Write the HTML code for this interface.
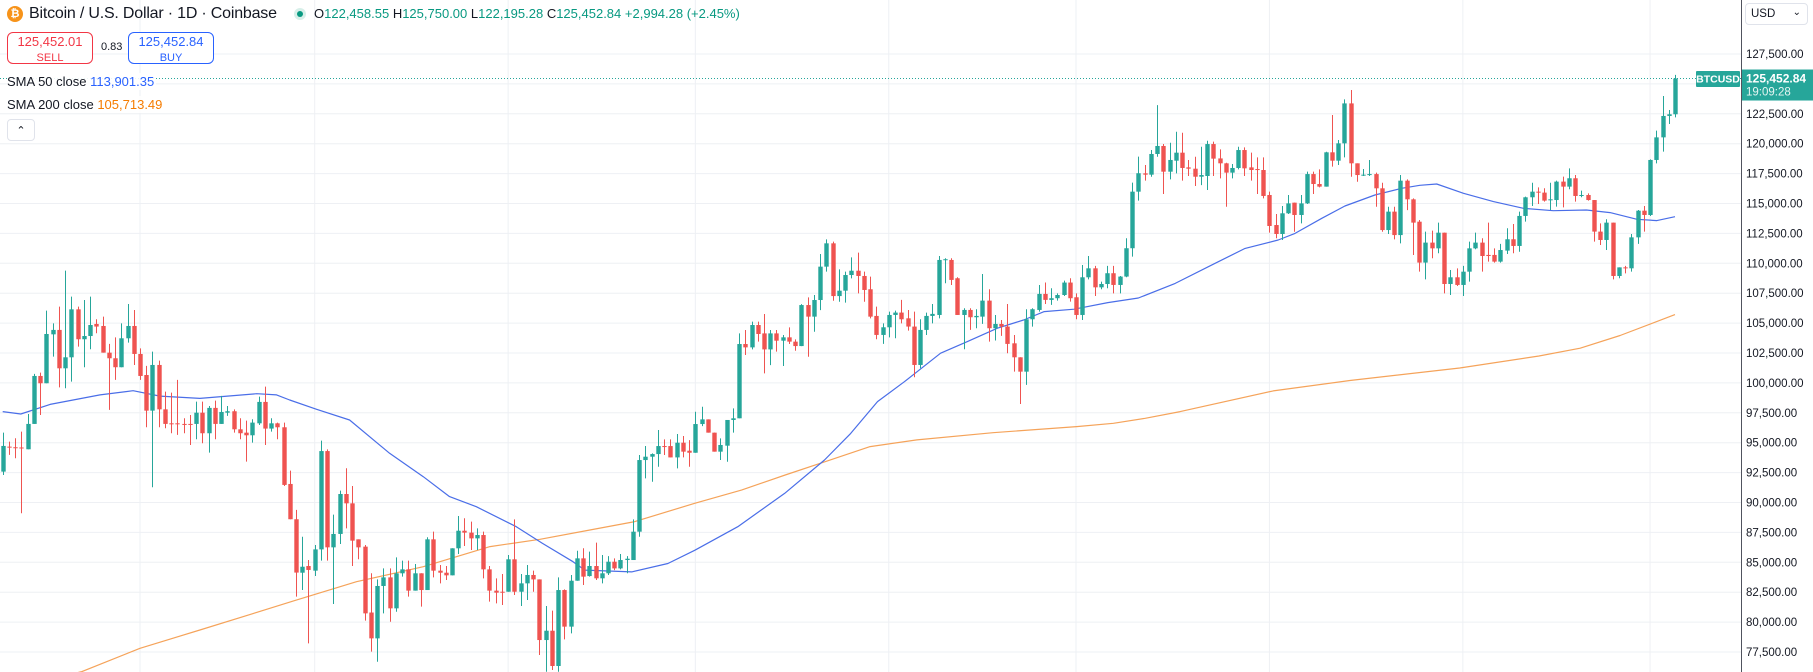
<!DOCTYPE html>
<html><head><meta charset="utf-8">
<style>
html,body{margin:0;padding:0;background:#fff;}
body{width:1813px;height:672px;position:relative;overflow:hidden;font-family:"Liberation Sans",sans-serif;color:#131722;}
svg{position:absolute;left:0;top:0;}
.abs{position:absolute;white-space:nowrap;}
.tl{color:#089981;}
.box{position:absolute;border:1px solid;border-radius:6px;background:#fff;text-align:center;font-size:13px;line-height:15px;padding-top:1px;box-sizing:border-box;}
.leg{position:absolute;left:7px;font-size:13px;background:rgba(255,255,255,0.9);padding:1px 2px 1px 0;}
</style></head>
<body>
<svg id="chart" width="1813" height="672"></svg>

<div class="abs" style="left:7px;top:6px;width:16px;height:16px;border-radius:50%;background:#f7931a;color:#fff;font-size:11px;line-height:16px;text-align:center;font-weight:bold;">₿</div>
<div class="abs" style="left:29px;top:5px;font-size:16px;letter-spacing:-0.2px;">Bitcoin / U.S. Dollar · 1D · Coinbase</div>
<div class="abs" style="left:294px;top:8px;width:12px;height:12px;border-radius:50%;background:#d7efe9;"><div style="margin:3px;width:6px;height:6px;border-radius:50%;background:#089981;"></div></div>
<div class="abs" style="left:314px;top:6px;font-size:13px;">O<span class="tl">122,458.55</span> H<span class="tl">125,750.00</span> L<span class="tl">122,195.28</span> C<span class="tl">125,452.84</span> <span class="tl">+2,994.28 (+2.45%)</span></div>

<div class="box" style="left:7px;top:32px;width:86px;height:32px;border-color:#f23645;color:#f23645;">125,452.01<br><span style="font-size:11px;">SELL</span></div>
<div class="abs" style="left:101px;top:41px;font-size:11px;">0.83</div>
<div class="box" style="left:128px;top:32px;width:86px;height:32px;border-color:#2962ff;color:#2962ff;">125,452.84<br><span style="font-size:11px;">BUY</span></div>

<div class="leg" style="top:73px;">SMA 50 close <span style="color:#2962ff;">113,901.35</span></div>
<div class="leg" style="top:96px;">SMA 200 close <span style="color:#f57c00;">105,713.49</span></div>
<div class="abs" style="left:7px;top:119px;width:26px;height:20px;border:1px solid #e0e3eb;border-radius:4px;background:#fff;text-align:center;font-size:11px;line-height:22px;">&#8963;</div>

<div class="abs" style="left:1745px;top:3px;width:63px;height:22px;border:1px solid #e0e3eb;border-radius:4px;box-sizing:border-box;font-size:11.5px;line-height:20px;padding-left:5px;background:#fff;">USD<span style="position:absolute;right:6px;top:-1px;font-size:10px;">&#8964;</span></div>

<script>
const opens=[92.58,94.67,94.62,94.60,94.45,96.57,100.58,99.97,104.06,104.43,101.22,102.14,106.15,103.65,103.92,104.93,104.76,102.53,102.06,101.31,103.73,104.76,102.42,100.66,97.68,101.50,97.79,96.62,96.62,96.57,96.57,96.57,97.51,95.79,97.91,96.57,97.51,97.63,96.12,95.84,95.62,96.62,98.41,96.18,96.62,96.29,91.55,88.60,
84.13,84.69,84.30,86.08,94.30,86.25,87.37,90.71,89.93,86.92,86.31,80.80,78.64,83.02,83.74,81.15,84.08,84.41,82.63,84.08,82.68,86.92,84.30,84.13,83.91,86.17,87.64,87.48,87.00,87.28,84.41,82.63,82.54,82.54,85.25,82.54,83.24,83.94,83.57,78.50,79.28,76.33,82.68,79.62,83.46,85.33,
83.85,84.69,83.66,84.08,85.05,84.49,85.19,85.19,87.56,93.55,93.83,94.05,94.72,94.72,93.77,95.00,94.33,94.16,96.56,96.95,95.84,94.25,94.75,96.90,97.04,103.25,102.97,104.84,104.14,102.80,104.14,103.53,103.81,103.45,103.08,106.51,105.54,106.93,109.72,111.67,107.26,107.71,109.02,109.38,108.94,
107.83,105.60,104.01,104.65,105.68,105.88,105.40,104.71,101.50,104.43,105.60,105.68,110.28,110.28,108.75,105.68,106.10,105.49,105.54,106.88,104.57,104.93,104.71,103.31,102.14,100.94,105.32,106.10,107.44,106.94,107.08,107.35,108.39,107.16,105.68,108.83,109.58,107.99,108.27,109.17,108.19,108.89,111.26,115.99,
117.52,117.41,119.14,119.81,117.66,118.58,119.25,118.02,117.91,117.24,117.30,119.97,118.77,118.36,117.58,117.97,119.47,118.02,117.88,117.80,115.71,113.20,112.45,114.18,115.07,114.04,115.01,117.46,116.63,116.41,119.28,118.58,120.03,123.37,118.36,117.41,117.38,117.46,116.27,112.78,114.32,112.36,116.91,115.35,
113.48,110.06,111.73,111.25,112.56,108.27,108.83,108.19,109.30,111.25,111.73,110.70,110.70,110.14,111.06,112.01,111.45,113.96,115.52,115.99,115.91,115.29,115.29,116.83,116.41,117.11,115.63,115.71,115.29,112.65,111.95,113.40,108.94,109.66,109.58,112.17,114.40,114.04,118.64,120.53,122.32,122.46];
const highs=[95.84,95.09,95.37,95.93,97.40,100.75,100.86,106.04,104.98,106.38,109.39,107.21,106.38,106.93,107.21,105.32,105.54,103.26,103.81,104.98,106.60,106.10,102.89,101.42,102.61,101.86,99.27,99.19,100.25,97.04,97.32,98.43,98.43,98.07,98.52,98.91,98.07,97.79,97.04,96.85,96.96,98.85,99.69,97.04,96.68,96.68,92.67,89.38,
87.14,85.19,86.45,95.17,94.44,88.99,90.99,92.86,91.38,86.92,86.45,84.08,83.57,84.49,84.49,85.41,85.14,85.14,84.86,84.08,87.09,87.56,84.77,84.69,86.17,88.87,88.68,88.40,87.84,87.56,84.69,83.66,84.02,85.61,88.59,84.02,84.77,84.30,83.57,81.35,80.96,83.74,82.74,83.94,85.97,86.17,
85.89,86.64,85.61,85.52,85.33,85.69,85.52,88.59,93.97,94.72,94.11,96.06,95.28,95.28,95.73,95.56,95.22,97.59,98.01,96.95,95.84,95.36,96.90,97.87,104.14,104.42,105.12,105.12,105.76,104.42,104.42,104.00,104.64,103.64,106.59,107.15,107.35,110.78,112.00,111.81,109.49,109.30,110.50,110.89,109.30,
108.89,106.38,104.98,105.96,106.04,106.94,106.10,105.96,105.32,105.88,106.60,110.61,110.42,110.42,108.83,106.24,106.24,106.16,109.11,107.83,105.68,105.26,106.60,104.01,102.14,106.16,106.24,108.19,108.39,107.91,107.49,108.55,108.75,107.49,109.86,110.61,109.78,108.47,109.78,109.78,108.94,112.09,116.75,118.92,
118.22,119.47,123.23,119.97,120.08,121.00,120.92,118.64,118.91,119.75,120.25,120.17,119.53,118.41,118.30,119.75,119.69,119.25,118.86,118.86,115.99,114.12,114.79,115.71,115.07,115.71,117.66,117.66,117.85,119.33,122.40,120.31,123.71,124.49,118.36,117.88,118.64,117.58,116.74,114.73,114.73,117.38,117.02,115.43,
113.62,112.65,112.73,113.40,112.56,109.44,109.58,109.78,111.81,112.56,112.09,113.40,111.25,111.62,112.93,113.29,114.32,115.57,116.74,116.35,116.27,116.74,116.91,117.25,117.94,117.38,116.08,115.85,115.29,113.34,113.68,113.40,109.66,109.78,112.45,114.46,114.79,118.69,121.09,123.99,122.82,125.75];
const lows=[92.30,93.98,93.70,89.10,94.45,96.57,97.32,99.97,102.20,99.63,99.55,100.11,103.03,101.31,102.81,104.15,102.53,97.74,100.25,101.31,103.37,101.50,100.25,96.29,91.27,96.29,96.21,95.79,95.65,95.79,94.81,95.29,94.95,94.17,95.29,96.57,97.24,95.84,95.29,93.42,95.01,96.48,94.81,95.93,95.29,91.38,88.60,82.13,
82.68,78.22,83.85,85.14,85.14,81.51,86.53,87.84,84.69,85.25,80.12,77.53,76.69,80.73,80.03,80.87,83.80,82.13,82.63,81.29,82.68,83.74,83.24,83.52,83.91,85.69,86.36,86.03,86.03,83.66,81.71,81.57,81.43,82.54,82.27,81.35,81.85,82.54,77.25,75.85,75.99,75.85,78.56,79.06,83.46,83.10,
83.80,83.52,83.24,83.94,84.35,84.41,84.08,85.19,87.14,92.02,91.74,92.99,93.97,93.77,92.85,93.77,92.99,94.16,96.39,95.84,94.25,93.55,93.41,95.84,97.04,102.33,102.80,103.45,100.80,101.49,102.61,101.41,103.25,102.69,103.08,102.19,104.28,106.09,109.30,106.87,106.79,106.71,108.74,107.49,106.79,
105.40,103.65,103.26,103.81,103.73,104.98,104.37,100.47,101.22,104.01,104.98,105.40,108.33,108.19,105.68,102.81,104.43,104.57,104.93,103.45,103.54,103.93,102.48,100.94,98.24,99.83,104.71,105.96,106.60,106.52,106.88,107.27,106.80,105.32,105.26,108.66,107.27,107.83,107.91,107.49,107.49,108.83,110.56,115.24,
116.91,117.24,118.91,115.79,117.02,117.52,116.91,117.30,116.46,116.54,116.13,117.30,117.10,114.73,117.10,117.85,117.30,116.91,115.79,115.43,112.56,112.09,111.95,114.12,112.64,113.34,114.96,115.79,116.35,116.41,118.08,118.22,118.86,117.24,116.82,117.30,117.30,114.73,112.64,112.45,112.00,111.67,114.45,110.69,
109.30,108.66,110.42,110.84,107.49,107.35,108.10,107.27,108.47,111.17,109.30,110.14,110.06,110.06,110.78,110.84,110.97,113.48,114.79,114.96,115.16,114.46,114.74,114.68,116.19,115.16,115.52,115.24,111.81,111.53,111.11,108.66,108.75,109.16,109.30,111.62,112.65,113.96,118.36,119.34,121.65,122.20];
const closes=[94.73,94.59,94.59,94.53,96.57,100.58,99.97,104.09,104.43,101.22,102.14,106.15,103.65,103.92,104.84,104.71,102.53,102.06,101.31,103.73,104.76,102.42,100.58,97.68,101.50,97.79,96.57,96.57,96.57,96.55,96.52,97.51,95.79,97.91,96.57,97.57,97.63,96.12,95.79,95.62,96.68,98.41,96.18,96.62,96.29,91.47,88.60,84.14,
84.63,84.36,86.08,94.30,86.25,87.37,90.71,89.93,86.81,86.25,80.73,78.64,83.02,83.74,81.15,84.08,84.41,82.63,84.08,82.68,86.92,84.30,84.13,83.91,86.17,87.64,87.48,87.00,87.28,84.41,82.63,82.46,82.46,85.25,82.54,83.24,83.94,83.57,78.50,79.28,76.33,82.68,79.62,83.46,85.33,83.80,
84.69,83.66,84.08,85.05,84.49,85.19,85.30,87.56,93.55,93.83,94.05,94.72,94.67,93.77,95.00,94.25,94.16,96.56,96.95,95.84,94.25,94.81,96.90,97.04,103.25,102.97,104.84,104.09,102.80,104.14,103.53,103.81,103.45,103.08,106.51,105.54,106.93,109.72,111.67,107.26,107.71,109.02,109.38,108.94,107.77,
105.54,104.01,104.65,105.68,105.88,105.32,104.71,101.50,104.43,105.60,105.77,110.28,110.34,108.61,105.68,106.10,105.49,105.60,106.88,104.57,104.93,104.71,103.26,102.14,100.94,105.32,106.16,107.44,106.94,107.08,107.35,108.39,107.08,105.68,108.83,109.58,107.99,108.27,109.17,108.19,108.89,111.26,115.99,117.53,
117.41,119.14,119.81,117.66,118.64,119.25,117.97,117.91,117.24,117.38,119.97,118.75,118.36,117.58,117.97,119.47,117.94,117.80,117.80,115.63,113.12,112.45,114.18,115.01,114.04,115.01,117.46,116.63,116.41,119.28,118.58,120.03,123.37,118.36,117.38,117.41,117.46,116.27,112.78,114.32,112.36,116.91,115.35,113.40,
110.06,111.73,111.25,112.56,108.27,108.83,108.19,109.30,111.25,111.73,110.61,110.61,110.14,111.11,112.01,111.45,113.96,115.52,115.99,115.91,115.24,115.35,116.83,116.41,117.11,115.63,115.71,115.29,112.65,111.95,113.40,108.94,109.66,109.58,112.17,114.40,114.04,118.64,120.53,122.32,122.46,125.45];
const sma50Idx=[0,2.9,7.6,15.6,20.9,25.2,31.6,40.7,43.9,46,50.3,55.6,62,67.4,71.6,75.9,82.3,86.5,91.4,93.3,100.8,106.6,110.9,117.8,125.3,131.7,135.9,140.2,144.5,150.3,154.6,159.4,163.6,166.9,171.7,177.1,182,187.9,194.3,199.1,204.4,207.1,211.4,215.1,219.9,224.2,227.1,229.8,234.1,238.9,243.7,248.5,253.8,257.6,261.9,265.1,268];
const sma50Val=[97.6,97.4,98.2,99.0,99.35,98.9,98.7,99.1,99.0,98.57,97.79,96.9,94.11,92.16,90.49,89.65,87.98,86.58,85.05,84.35,84.2,84.9,86.0,87.98,90.76,93.55,95.78,98.44,100.1,102.48,103.45,104.57,105.26,105.96,106.16,106.71,107.1,108.32,110.0,111.25,111.95,112.5,113.76,114.79,115.71,116.27,116.52,116.63,115.85,115.16,114.6,114.4,114.46,114.24,113.68,113.57,113.90];
const sma200Idx=[5,12.7,22.0,31.6,40.2,46.8,56.7,67.4,78.1,86.1,94.1,101.3,110.9,118.4,125.4,131.8,139,146.5,158.7,172.1,178,183.1,188.7,203.6,215.9,233.5,246.2,252.8,259.2,268];
const sma200Val=[74.9,75.86,77.81,79.34,80.73,81.8,83.38,84.63,86.31,86.92,87.7,88.40,89.93,91.04,92.3,93.41,94.67,95.23,95.84,96.35,96.62,97.04,97.6,99.33,100.2,101.25,102.25,102.9,103.96,105.71];
const yTicks=[77.5,80,82.5,85,87.5,90,92.5,95,97.5,100,102.5,105,107.5,110,112.5,115,117.5,120,122.5,125,127.5];
const monthLineIdx=[22,50,81,111,142,172,203,234,264];

const NS='http://www.w3.org/2000/svg';
const svg=document.getElementById('chart');
const PLOT_W=1741;
function x(i){return 2.7+i*6.24;}
function y(p){return 263.3+(110-p)*11.96;}
function mk(tag,attrs,parent){const e=document.createElementNS(NS,tag);for(const k in attrs)e.setAttribute(k,attrs[k]);(parent||svg).appendChild(e);return e;}

const grid=mk('g',{});


yTicks.forEach(t=>{const l=mk('line',{x1:0,x2:PLOT_W,y1:y(t),y2:y(t),stroke:'#eef0f4','stroke-width':1},grid);

});
monthLineIdx.forEach(i=>{const l=mk('line',{x1:x(i),x2:x(i),y1:0,y2:672,stroke:'#eef0f4','stroke-width':1},grid);

});

const last=closes[closes.length-1];
const pl=mk('line',{x1:0,x2:PLOT_W,y1:y(last),y2:y(last),stroke:'#26a69a','stroke-width':1,'stroke-dasharray':'1 2'});



function poly(idx,val,color,name){let d='';idx.forEach((i,k)=>{d+=(k?'L':'M')+x(i).toFixed(1)+' '+y(val[k]).toFixed(1);});
const p=mk('path',{d:d,fill:'none',stroke:color,'stroke-width':1.2,'stroke-linejoin':'round'});

}
poly(sma200Idx,sma200Val,'#f5a35a','sma200-line');
poly(sma50Idx,sma50Val,'#4a6ee8','sma50-line');

const cg=mk('g',{});


for(let i=0;i<closes.length;i++){
 const up=closes[i]>=opens[i];const col=up?'#26a69a':'#ef5350';
 const g=mk('g',{},cg);
 
 
 const cx=Math.round(x(i))+0.5;
 mk('line',{x1:cx,x2:cx,y1:y(highs[i]),y2:y(lows[i]),stroke:col,'stroke-width':1},g);
 const t=y(Math.max(opens[i],closes[i])),b=y(Math.min(opens[i],closes[i]));
 mk('rect',{x:cx-2.2,y:t,width:4.4,height:Math.max(1,b-t),fill:col},g);
}

const ax=mk('g',{});


mk('rect',{x:1741,y:0,width:72,height:672,fill:'#fff'},ax);
mk('line',{x1:1741.5,x2:1741.5,y1:0,y2:672,stroke:'#50535e','stroke-width':1},ax);
yTicks.forEach(t=>{const tx=mk('text',{x:1746,y:y(t)+4,'font-size':11.5,fill:'#131722','font-family':'Liberation Sans, sans-serif'},ax);
tx.textContent=(t*1000).toLocaleString('en-US',{minimumFractionDigits:2,maximumFractionDigits:2});

});

const ly=y(last);
const sl=mk('g',{});


mk('rect',{x:1696,y:ly-7.5,width:44,height:16,fill:'#26a69a',rx:1},sl);
const st=mk('text',{x:1718,y:ly+4,'font-size':10.5,'font-weight':'bold',fill:'#fff','text-anchor':'middle','font-family':'Liberation Sans, sans-serif'},sl);
st.textContent='BTCUSD';
const pg=mk('g',{});


mk('rect',{x:1742,y:ly-9,width:71,height:31,fill:'#26a69a'},pg);
const pt=mk('text',{x:1746,y:ly+4,'font-size':12,'font-weight':'bold',fill:'#fff','font-family':'Liberation Sans, sans-serif'},pg);
pt.textContent='125,452.84';
const tt=mk('text',{x:1746,y:ly+17,'font-size':11.5,fill:'#e6f5f2','font-family':'Liberation Sans, sans-serif'},pg);
tt.textContent='19:09:28';
</script>
</body></html>
